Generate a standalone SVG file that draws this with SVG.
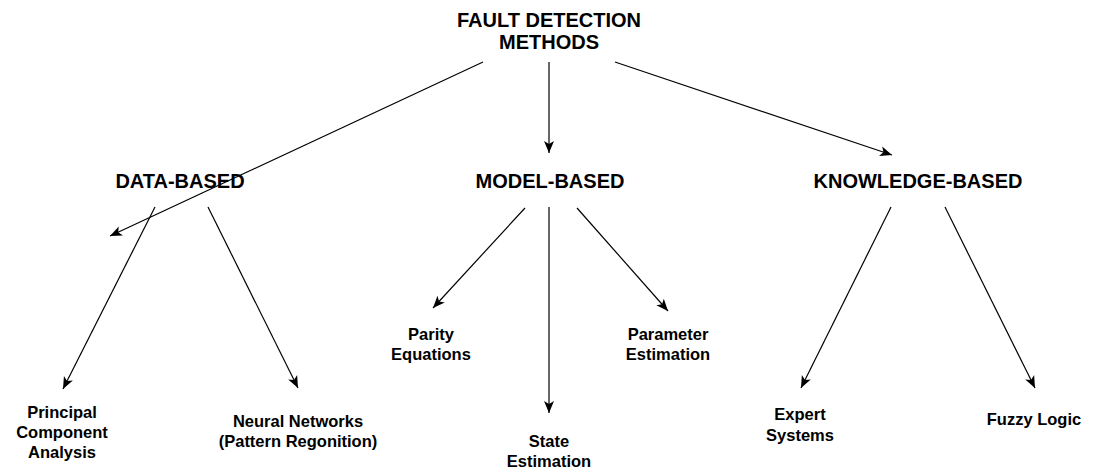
<svg xmlns="http://www.w3.org/2000/svg" width="1094" height="472" viewBox="0 0 1094 472">
<style>
.t{font-family:"Liberation Sans",Arial,sans-serif;font-weight:bold;fill:#000;text-anchor:middle}
.h{font-size:20px}
.s{font-size:16.5px}
.c line{stroke:#000;stroke-width:1.2;fill:none;marker-end:url(#a)}
</style>
<defs>
<marker id="a" markerUnits="userSpaceOnUse" markerWidth="14" markerHeight="12" viewBox="0 0 14 12" refX="12" refY="6" orient="auto">
<path d="M0,1 L12,6 L0,11 L3,6 z" fill="#000"/>
</marker>
</defs>
<rect width="1094" height="472" fill="#fff"/>
<g id="root"><text class="t h" x="549" y="27">FAULT DETECTION</text><text class="t h" x="549" y="49">METHODS</text></g>
<g id="data"><text class="t h" x="180" y="188">DATA-BASED</text></g>
<g id="model"><text class="t h" x="550" y="188">MODEL-BASED</text></g>
<g id="knowledge"><text class="t h" x="918" y="188">KNOWLEDGE-BASED</text></g>
<g id="pca"><text class="t s" x="62" y="418">Principal</text><text class="t s" x="62" y="438">Component</text><text class="t s" x="62" y="458">Analysis</text></g>
<g id="nn"><text class="t s" x="298" y="427">Neural Networks</text><text class="t s" x="298" y="447">(Pattern Regonition)</text></g>
<g id="parity"><text class="t s" x="431" y="340">Parity</text><text class="t s" x="431" y="360">Equations</text></g>
<g id="state"><text class="t s" x="549" y="447">State</text><text class="t s" x="549" y="467">Estimation</text></g>
<g id="param"><text class="t s" x="668" y="340">Parameter</text><text class="t s" x="668" y="360">Estimation</text></g>
<g id="expert"><text class="t s" x="800" y="420">Expert</text><text class="t s" x="800" y="441">Systems</text></g>
<g id="fuzzy"><text class="t s" x="1034" y="425">Fuzzy Logic</text></g>
<g class="c" id="connectors">
<line x1="483" y1="62" x2="110" y2="236"/>
<line x1="549" y1="62" x2="549" y2="153"/>
<line x1="615" y1="62" x2="892" y2="155"/>
<line x1="155" y1="207" x2="63" y2="389"/>
<line x1="208" y1="207" x2="298" y2="388"/>
<line x1="525" y1="208" x2="433" y2="308"/>
<line x1="549" y1="207" x2="549" y2="413"/>
<line x1="577" y1="208" x2="668" y2="311"/>
<line x1="891" y1="207" x2="801" y2="388"/>
<line x1="945" y1="207" x2="1035" y2="388"/>
</g>
</svg>
